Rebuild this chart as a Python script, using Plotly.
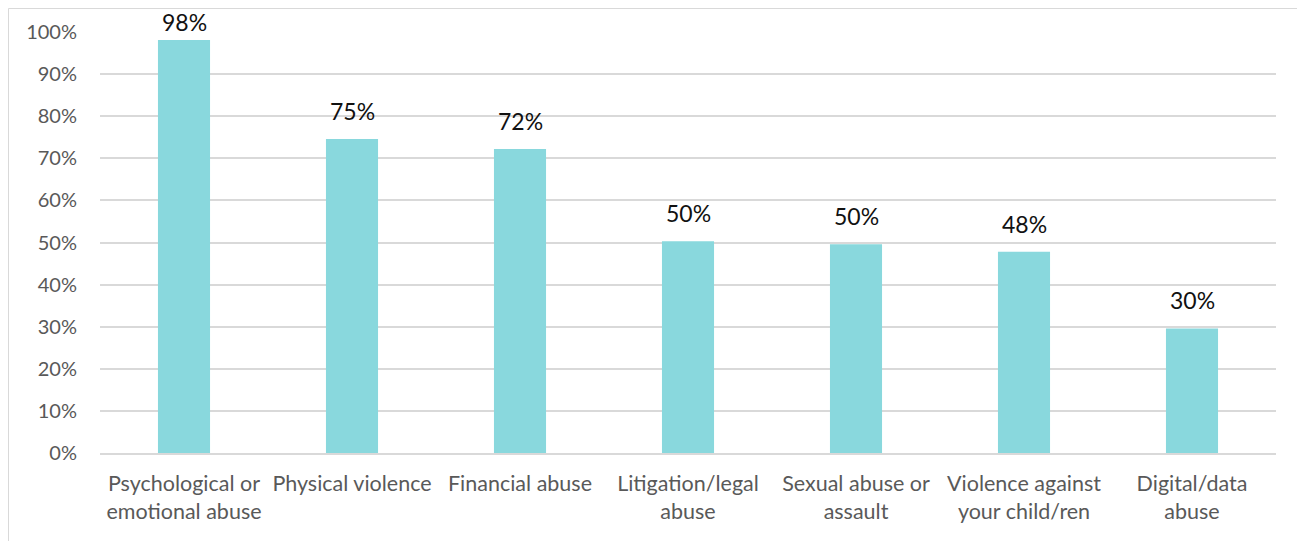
import plotly.graph_objects as go

categories = [
    "Psychological or<br>emotional abuse",
    "Physical violence",
    "Financial abuse",
    "Litigation/legal<br>abuse",
    "Sexual abuse or<br>assault",
    "Violence against<br>your child/ren",
    "Digital/data<br>abuse",
]
values = [98.1, 74.6, 72.2, 50.3, 49.6, 47.8, 29.6]
y_ticks = [0, 10, 20, 30, 40, 50, 60, 70, 80, 90, 100]
y_tick_labels = [f"{t}%" for t in y_ticks]

BAR_COLOR = "#89D8DD"
FONT = "Lato"

fig = go.Figure()
fig.add_trace(go.Bar(
    x=categories,
    y=values,
    marker=dict(color=BAR_COLOR, line=dict(width=0)),
    width=0.31,
    hoverinfo="skip",
))

# data labels: pixel gap above each bar (first label constrained by chart top)
label_gap = [2, 12, 12, 12, 12, 12, 12]
for c, v, g in zip(categories, values, label_gap):
    fig.add_annotation(
        x=c, y=v, xref="x", yref="y",
        text=f"{round(v)}%",
        showarrow=False,
        yanchor="bottom",
        yshift=g,
        font=dict(family=FONT, size=23, color="#111111"),
    )

# page body has an 8px margin, so the figure is sized to fit the window
W, H = 1297, 533
L, R, T, B = 92, 29, 24, 88
pw, ph = W - L - R, H - T - B

fig.add_shape(
    type="rect", xref="paper", yref="paper",
    x0=(0.5 - L) / pw, x1=(W + 10 - L) / pw,
    y0=-(B + 10) / ph, y1=(H - B - 0.5) / ph,
    line=dict(color="#D9D9D9", width=1),
    fillcolor="rgba(0,0,0,0)",
    layer="below",
)

fig.update_layout(
    width=W, height=H,
    margin=dict(l=L, r=R, t=T, b=B),
    paper_bgcolor="white",
    plot_bgcolor="white",
    showlegend=False,
    bargap=0.69,
    font=dict(family=FONT, color="#595959", size=20),
    xaxis=dict(
        showgrid=False,
        showline=True,
        linecolor="#D9D9D9",
        linewidth=1.5,
        ticks="",
        tickfont=dict(family=FONT, size=21.5, color="#595959"),
        ticklabelstandoff=10,
    ),
    yaxis=dict(
        range=[0, 100],
        tickvals=y_ticks,
        ticktext=y_tick_labels,
        showgrid=True,
        gridcolor="#D9D9D9",
        gridwidth=1.5,
        zeroline=False,
        showline=False,
        ticks="",
        tickfont=dict(family=FONT, size=20, color="#595959"),
        ticklabelstandoff=22,
    ),
)

fig.write_html("out.html")
